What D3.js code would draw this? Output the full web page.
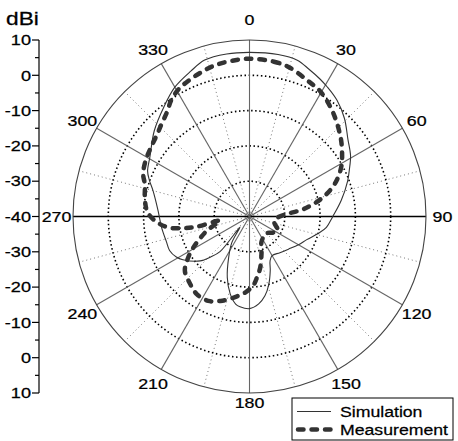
<!DOCTYPE html>
<html><head><meta charset="utf-8">
<script src="https://cdn.jsdelivr.net/npm/d3@7"></script>
<style>html,body{margin:0;padding:0;background:#fff;} svg{display:block;font-family:"Liberation Sans",Arial,sans-serif;} text{stroke:#000;stroke-width:0.25px;}</style>
</head><body><div id="chart"></div>
<script>
// ---- data ----
const angleLabels = [0,30,60,90,120,150,180,210,240,270,300,330];
const radialTicks = [10,0,-10,-20,-30,-40];
const gridCircles = [0,-10,-20,-30];
const seriesNames = ["Simulation","Measurement"];

const simAngle = [0,10,17,22,27,31,37,44,52,59,65,70,80,90,98,104,112,120,130,140,150,155,159,164,169,174,180,186,189,194,200,207,214,222,220,224,228,237,241,247,253,263,274,285,290,294,301,312,322,330,338,344,352];
const simGain  = [6.5,6.6,6.3,5.0,3.8,2.8,1.2,-1.3,-4.6,-6.6,-8.8,-10.4,-13.6,-16.4,-18,-20,-22.5,-24,-25.6,-26.6,-27.2,-26.2,-23.6,-20.1,-17.1,-15.1,-13.9,-14.3,-14.9,-17.4,-21.6,-27,-31,-36,-27,-24,-21.2,-17.5,-16.3,-15.4,-15.4,-14.9,-14,-11.7,-9.8,-8.4,-7.1,-3.7,-0.6,2.3,4.4,6.1,6.5];

const measAngle = [0,9,15,23,30,39,49,55,61,67,72,76,80,83,87,96,105,116,125,134,145,155,162,168,173,177,183,191,199,206,214,221,230,236,241,246,252,262,259,260,262,266,272,279,287,292,299,305,311,317,322,326,331,336,341,346,352];
const measGain  = [4.7,4.4,3.7,1.9,0.6,-2.3,-5.8,-8,-10.2,-13,-16,-19,-22.5,-25.5,-30,-32.7,-32.7,-31,-32,-33.2,-33,-32,-29,-25.3,-22.6,-20.4,-18.5,-16.6,-14.7,-13.4,-13.4,-14.5,-16.1,-19,-21.8,-24.6,-27.5,-31.5,-24.7,-20.9,-17.2,-14,-11.2,-10,-9,-7.5,-6.5,-5.9,-5.1,-3.7,-2.2,-0.3,1.3,2.2,3.0,3.8,4.3];

// ---- layout ----
const W = 458, H = 441;
const cx = 249.5, cy = 216.5, R = 176.5;
const svg = d3.select("#chart").append("svg").attr("width", W).attr("height", H);
const r = d3.scaleLinear().domain([-40, 10]).range([0, R]);
const rad = d => d * Math.PI / 180;
const g = svg.append("g").attr("transform", `translate(${cx},${cy})`);

// dotted spokes at 15° offsets
const minorSpokes = d3.range(15, 360, 30);
g.selectAll("line.minor").data(minorSpokes).join("line")
  .attr("x1", 0).attr("y1", 0)
  .attr("x2", d => r(10) * Math.sin(rad(d))).attr("y2", d => -r(10) * Math.cos(rad(d)))
  .attr("stroke", "#777").attr("stroke-width", 1).attr("stroke-dasharray", "1,3");

// dotted circles
g.selectAll("circle.grid").data(gridCircles).join("circle")
  .attr("r", d => r(d)).attr("fill", "none")
  .attr("stroke", "#000").attr("stroke-width", 1.6).attr("stroke-dasharray", "1.5,2.6");

// solid spokes every 30°
g.selectAll("line.major").data(angleLabels).join("line")
  .attr("x1", 0).attr("y1", 0)
  .attr("x2", d => r(10) * Math.sin(rad(d))).attr("y2", d => -r(10) * Math.cos(rad(d)))
  .attr("stroke", d => (d === 90 || d === 270) ? "#000" : "#666")
  .attr("stroke-width", d => (d === 90 || d === 270) ? 1.3 : 1.1);

// outer circle
g.append("circle").attr("r", r(10)).attr("fill", "none").attr("stroke", "#444").attr("stroke-width", 1.1);

// angle labels
g.selectAll("text.ang").data(angleLabels).join("text")
  .attr("transform", d => {
    const lr = 193;
    let x = lr * Math.sin(rad(d)), y = -lr * Math.cos(rad(d));
    if (d === 0) y -= 4;
    if (d === 180) y -= 7;
    return `translate(${x},${y}) scale(1.15,1)`;
  })
  .attr("text-anchor", "middle").attr("dy", "0.36em")
  .attr("font-size", 15.5).attr("fill", "#000").text(d => d);

// series
const line = d3.lineRadial().angle(d => rad(d[0])).radius(d => r(d[1])).curve(d3.curveCatmullRomClosed.alpha(0.5));
const simData = simAngle.map((a, i) => [a, simGain[i]]);
const measData = measAngle.map((a, i) => [a, measGain[i]]);
g.append("path").attr("d", line(simData)).attr("fill", "none").attr("stroke", "#333").attr("stroke-width", 1.1);
g.append("path").attr("d", line(measData)).attr("fill", "none").attr("stroke", "#333")
  .attr("stroke-width", 4.5).attr("stroke-linecap", "round").attr("stroke-dasharray", "5.5,8");

// left axis (mirrored)
const ax = 39;
const ay = svg.append("g");
ay.append("line").attr("x1", ax).attr("x2", ax).attr("y1", cy - R).attr("y2", cy + R).attr("stroke", "#000").attr("stroke-width", 1.2);
const tickPos = [];
radialTicks.forEach(t => { tickPos.push({v: t, y: cy - r(t)}); if (t !== -40) tickPos.push({v: t, y: cy + r(t)}); });
ay.selectAll("line.maj").data(tickPos).join("line")
  .attr("x1", ax - 7).attr("x2", ax).attr("y1", d => d.y).attr("y2", d => d.y).attr("stroke", "#000").attr("stroke-width", 1.2);
const minorVals = d3.range(-35, 10, 10);
const minorPos = [];
minorVals.forEach(t => { minorPos.push(cy - r(t)); minorPos.push(cy + r(t)); });
ay.selectAll("line.min").data(minorPos).join("line")
  .attr("x1", ax - 4).attr("x2", ax).attr("y1", d => d).attr("y2", d => d).attr("stroke", "#000").attr("stroke-width", 1.2);
ay.selectAll("text.tk").data(tickPos).join("text")
  .attr("transform", d => `translate(${ax - 8},${d.y}) scale(1.25,1)`)
  .attr("text-anchor", "end").attr("dy", "0.36em").attr("font-size", 14.5).text(d => d.v);
svg.append("text").attr("transform", "translate(6,25) scale(1.3,1)").attr("font-size", 17.5).text("dBi");

// legend
const lg = svg.append("g");
lg.append("rect").attr("x", 292).attr("y", 398).attr("width", 161).attr("height", 42)
  .attr("fill", "#fff").attr("stroke", "#000").attr("stroke-width", 1);
lg.append("line").attr("x1", 297).attr("x2", 331).attr("y1", 411.5).attr("y2", 411.5).attr("stroke", "#333").attr("stroke-width", 1.1);
lg.append("line").attr("x1", 298).attr("x2", 331).attr("y1", 429.5).attr("y2", 429.5).attr("stroke", "#333")
  .attr("stroke-width", 4.5).attr("stroke-linecap", "round").attr("stroke-dasharray", "5.5,8");
lg.selectAll("text.lg").data(seriesNames).join("text")
  .attr("transform", (d, i) => `translate(340,${416.5 + i * 18}) scale(1.14,1)`)
  .attr("font-size", 15.5).text(d => d);
</script></body></html>
